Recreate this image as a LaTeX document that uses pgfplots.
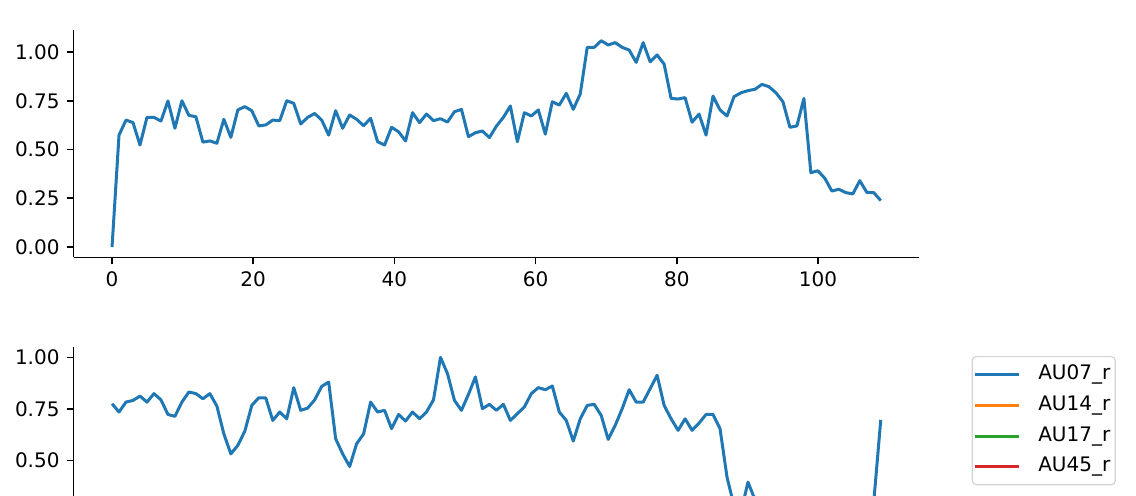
\documentclass[border=0pt]{standalone}
\usepackage{fontspec}
\setmainfont{DejaVu Sans}
\usepackage{pgfplots}
\pgfplotsset{compat=1.18}
\usepackage{pgfplotstable}
\definecolor{tabblue}{HTML}{1F77B4}
\definecolor{taborange}{HTML}{FF7F0E}
\definecolor{tabgreen}{HTML}{2CA02C}
\definecolor{tabred}{HTML}{D62728}

% x = time step, top = upper panel, bot = lower panel (AU07_r)
\pgfplotstableread{
x top bot
0 0.000 0.775
0.99 0.574 0.735
1.98 0.651 0.783
2.97 0.638 0.791
3.96 0.523 0.812
4.95 0.665 0.783
5.94 0.665 0.824
6.93 0.646 0.794
7.92 0.749 0.723
8.91 0.609 0.714
9.90 0.750 0.783
10.89 0.675 0.832
11.88 0.668 0.824
12.87 0.538 0.799
13.86 0.544 0.824
14.85 0.532 0.764
15.84 0.655 0.629
16.83 0.562 0.532
17.82 0.703 0.573
18.81 0.720 0.642
19.80 0.699 0.767
20.79 0.621 0.804
21.78 0.626 0.803
22.77 0.651 0.694
23.76 0.648 0.735
24.75 0.750 0.702
25.74 0.737 0.853
26.73 0.631 0.743
27.72 0.665 0.754
28.71 0.685 0.794
29.70 0.651 0.859
30.69 0.574 0.880
31.68 0.699 0.605
32.67 0.609 0.532
33.66 0.677 0.471
34.65 0.655 0.581
35.64 0.622 0.629
36.63 0.660 0.783
37.62 0.540 0.735
38.61 0.523 0.743
39.60 0.614 0.654
40.59 0.591 0.723
41.58 0.544 0.691
42.57 0.689 0.735
43.56 0.638 0.702
44.55 0.682 0.735
45.54 0.648 0.794
46.53 0.658 1.000
47.52 0.641 0.921
48.51 0.694 0.791
49.50 0.706 0.743
50.49 0.566 0.820
51.48 0.586 0.905
52.47 0.595 0.751
53.46 0.561 0.772
54.45 0.620 0.743
55.44 0.665 0.772
56.43 0.723 0.694
57.42 0.540 0.727
58.41 0.689 0.759
59.40 0.672 0.824
60.39 0.703 0.853
61.38 0.579 0.843
62.37 0.745 0.861
63.36 0.728 0.735
64.35 0.788 0.694
65.34 0.706 0.594
66.33 0.785 0.702
67.32 1.024 0.767
68.31 1.024 0.772
69.30 1.058 0.718
70.29 1.036 0.602
71.28 1.048 0.670
72.27 1.024 0.751
73.26 1.010 0.843
74.25 0.947 0.783
75.24 1.048 0.783
76.23 0.950 0.848
77.22 0.985 0.913
78.21 0.938 0.767
79.20 0.762 0.702
80.19 0.759 0.646
81.18 0.766 0.702
82.17 0.640 0.646
83.16 0.682 0.681
84.15 0.574 0.723
85.14 0.774 0.723
86.13 0.703 0.654
87.12 0.672 0.419
88.11 0.771 0.280
89.10 0.791 0.250
90.09 0.802 0.395
91.08 0.809 0.310
92.07 0.834 0.220
93.06 0.822 0.180
94.05 0.791 0.200
95.04 0.745 0.150
96.03 0.614 0.120
97.02 0.621 0.100
98.01 0.762 0.080
99.00 0.381 0.050
99.99 0.391 0.040
100.98 0.352 0.030
101.97 0.287 0.020
102.96 0.296 0.000
103.95 0.279 0.020
104.94 0.272 0.050
105.93 0.340 0.080
106.92 0.280 0.150
107.91 0.279 0.300
108.90 0.238 0.697
}\audata

\pgfplotsset{
  mpl/.style={
    scale only axis, width=422.8pt, height=113.45pt, anchor=south west,
    xmin=-5.445, xmax=114.345,
    axis x line*=bottom, axis y line*=left,
    axis line style={line width=0.8pt,-,black},
    tick align=outside, major tick length=3.5pt,
    every tick/.style={black, line width=0.8pt},
    xtick={0,20,40,60,80,100}, ytick={0,0.25,0.5,0.75,1},
    minor tick num=0,
    /pgf/number format/assume math mode=true,
    tick label style={font=\fontsize{10}{12}\selectfont, black},
    yticklabel style={/pgf/number format/fixed, /pgf/number format/fixed zerofill, /pgf/number format/precision=2},
  }
}

\begin{document}
\begin{tikzpicture}
\path[use as bounding box] (0,0) rectangle (568pt,247.5pt);
\clip (0,0) rectangle (568pt,247.5pt);
\begin{axis}[mpl, at={(36.8pt,118.85pt)}, ymin=-0.0529, ymax=1.1109]
\addplot[tabblue, line width=1.5pt, line join=round, mark=none] table[x=x,y=top]{\audata};
\end{axis}
\begin{axis}[mpl, at={(36.8pt,-39.45pt)}, ymin=-0.05, ymax=1.05,
  xticklabels={}, ytick={0.5,0.75,1},
  legend cell align=left,
  legend image code/.code={\draw[#1, line width=1.5pt] (0pt,0pt) -- (22pt,0pt);},
  legend style={at={(1.0621,0.9603)}, anchor=north west, draw=black!17, line width=0.6pt,
    rounded corners=2pt, fill=white, inner xsep=0.5pt, inner ysep=4pt,
    row sep=5.35pt, column sep=7pt,
    nodes={inner xsep=2pt, inner ysep=0pt, text height=7.6pt, text depth=2.4pt},
    font=\fontsize{10}{12}\selectfont}]
\addplot[tabblue, line width=1.5pt, line join=round, mark=none] table[x=x,y=bot]{\audata};
\addlegendentry{AU07\_r}
\addlegendimage{taborange}
\addlegendentry{AU14\_r}
\addlegendimage{tabgreen}
\addlegendentry{AU17\_r}
\addlegendimage{tabred}
\addlegendentry{AU45\_r}
\end{axis}
\end{tikzpicture}
\end{document}
